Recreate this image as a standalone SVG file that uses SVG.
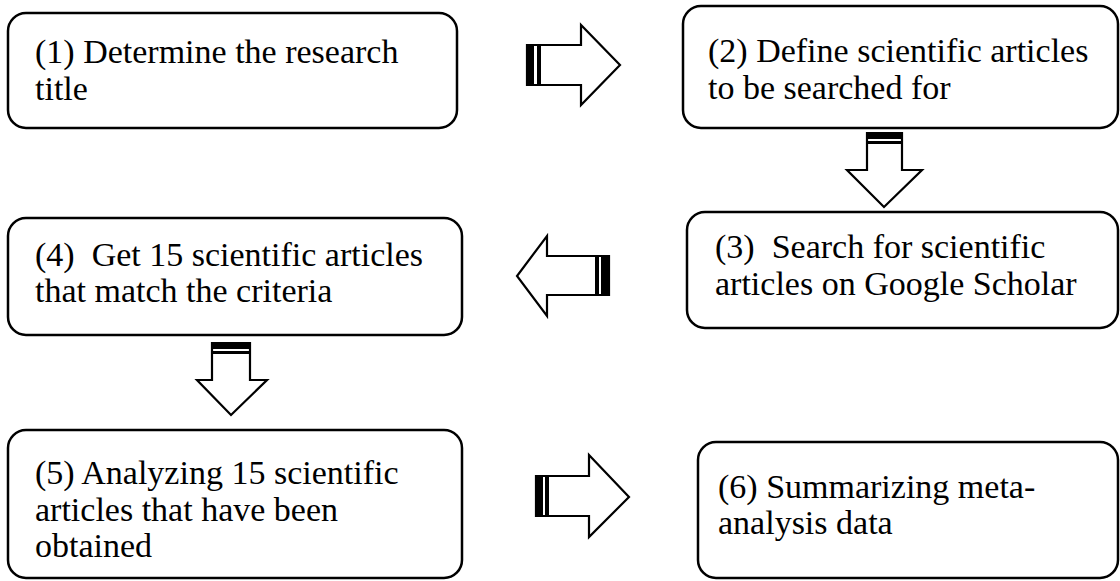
<svg xmlns="http://www.w3.org/2000/svg" width="1120" height="581" viewBox="0 0 1120 581">
<style>
.box{fill:#fff;stroke:#000;stroke-width:2.5}
.t{font-family:"Liberation Serif","Times New Roman",serif;font-size:34px;fill:#000;white-space:pre}
.arr{fill:#fff;stroke:#000;stroke-width:2.2;stroke-linejoin:miter}
.bar{fill:#000}
</style>
<rect width="1120" height="581" fill="#fff"/>
<g id="node1">
<rect class="box" x="8" y="13" width="449" height="115" rx="18"/>
<text class="t" x="35" y="63">(1) Determine the research</text>
<text class="t" x="35" y="100">title</text>
</g>
<g id="node2">
<rect class="box" x="683" y="6" width="435" height="122" rx="18"/>
<text class="t" x="708" y="62">(2) Define scientific articles</text>
<text class="t" x="708" y="99">to be searched for</text>
</g>
<g id="node3">
<rect class="box" x="687" y="212" width="431" height="116" rx="18"/>
<text class="t" x="715" y="258" xml:space="preserve">(3)  Search for scientific</text>
<text class="t" x="715" y="295">articles on Google Scholar</text>
</g>
<g id="node4">
<rect class="box" x="8" y="218" width="454" height="117" rx="18"/>
<text class="t" x="35" y="266" xml:space="preserve">(4)  Get 15 scientific articles</text>
<text class="t" x="35" y="302">that match the criteria</text>
</g>
<g id="node5">
<rect class="box" x="8" y="430" width="454" height="148" rx="18"/>
<text class="t" x="35" y="484">(5) Analyzing 15 scientific</text>
<text class="t" x="35" y="521">articles that have been</text>
<text class="t" x="35" y="557">obtained</text>
</g>
<g id="node6">
<rect class="box" x="698" y="442" width="420" height="136" rx="18"/>
<text class="t" x="718" y="498">(6) Summarizing meta-</text>
<text class="t" x="718" y="534">analysis data</text>
</g>
<g id="connectors">
<g id="arrow1-2">
<polygon class="arr" points="527,45 581,45 581,25 620,65 581,105 581,85 527,85"/>
<rect class="bar" x="527" y="45" width="7" height="40"/>
<rect class="bar" x="537" y="45" width="4" height="40"/>
</g>
<g id="arrow2-3">
<polygon class="arr" points="867,133 902,133 902,170 922,170 884,207 847,170 867,170"/>
<rect class="bar" x="867" y="133" width="35" height="6"/>
<rect class="bar" x="867" y="141" width="35" height="3"/>
</g>
<g id="arrow3-4">
<polygon class="arr" points="609,256 609,295 547,295 547,316 517,276 547,236 547,256"/>
<rect class="bar" x="601" y="256" width="8" height="39"/>
<rect class="bar" x="595" y="256" width="4" height="39"/>
</g>
<g id="arrow4-5">
<polygon class="arr" points="212,343 250,343 250,380 267,380 231,415 197,380 212,380"/>
<rect class="bar" x="212" y="343" width="38" height="6"/>
<rect class="bar" x="212" y="351" width="38" height="3"/>
</g>
<g id="arrow5-6">
<polygon class="arr" points="536,476 589,476 589,455 629,497 589,537 589,516 536,516"/>
<rect class="bar" x="536" y="476" width="7" height="40"/>
<rect class="bar" x="545" y="476" width="4" height="40"/>
</g>
</g>
</svg>
